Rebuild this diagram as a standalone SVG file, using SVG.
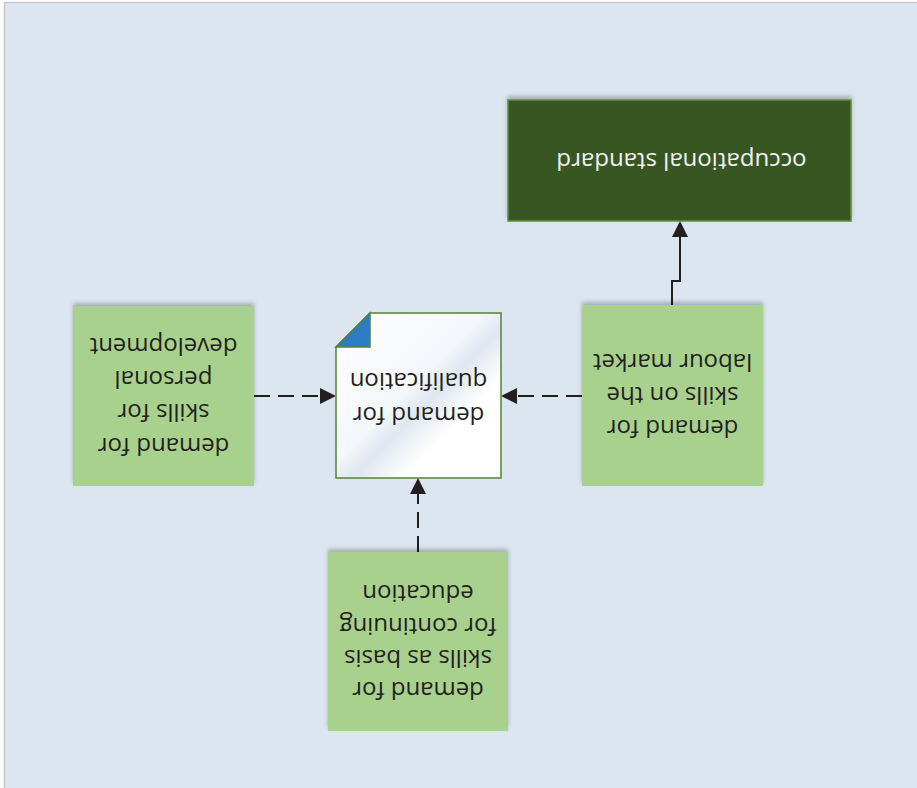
<svg xmlns="http://www.w3.org/2000/svg" width="917" height="788" viewBox="0 0 917 788">
<style>
.lbl{font-family:"Open Sans","Liberation Sans",sans-serif;font-size:24px;fill:#231f20;text-anchor:middle}
.lblw{font-family:"Open Sans","Liberation Sans",sans-serif;font-size:24px;fill:#f2f2f2;text-anchor:middle}
.green{fill:#a9d18e;filter:url(#sh)}
.conn{fill:none;stroke:#231f20;stroke-width:2}
.dash{stroke-dasharray:16 8}
</style>
<defs>
<filter id="sh" x="-10%" y="-10%" width="120%" height="120%">
<feDropShadow dx="0" dy="-3" stdDeviation="2" flood-color="#000" flood-opacity="0.25"/>
</filter>
<linearGradient id="doc" x1="0" y1="0" x2="1" y2="1">
<stop offset="0" stop-color="#ffffff"/>
<stop offset="0.45" stop-color="#f4f7fb"/>
<stop offset="0.55" stop-color="#dfe7f1"/>
<stop offset="0.7" stop-color="#ffffff"/>
<stop offset="1" stop-color="#ffffff"/>
</linearGradient>
<marker id="arr" viewBox="0 0 16 16" refX="0" refY="8" markerWidth="16" markerHeight="16" markerUnits="userSpaceOnUse" orient="auto">
<path d="M0,0 L16,8 L0,16 z" fill="#231f20"/>
</marker>
</defs>
<rect x="4.5" y="2.5" width="920" height="790" fill="#dce6f1" stroke="#c8c8c8" stroke-width="1.5"/>

<g id="connectors">
<path class="conn dash" d="M254,396 H320" marker-end="url(#arr)"/>
<path class="conn dash" d="M582,396 H517" marker-end="url(#arr)"/>
<path class="conn dash" d="M418,552 V494" marker-end="url(#arr)"/>
<path class="conn" d="M672,305 V281 H680 V237" marker-end="url(#arr)"/>
</g>

<g id="node-occupational-standard">
<rect x="508" y="100" width="343" height="121" fill="#385723" stroke="#5f8f3c" stroke-width="1.5" filter="url(#sh)"/>
<g transform="rotate(180 679.5 160.5)">
<text class="lblw" x="677.5" y="167.7">occupational standard</text>
</g>
</g>

<g id="node-personal-development">
<rect class="green" x="73" y="306" width="181" height="180"/>
<g transform="rotate(180 163.5 396)">
<text class="lbl" x="163.5" y="354.5">demand for</text>
<text class="lbl" x="163.5" y="388">skills for</text>
<text class="lbl" x="163.5" y="421">personal</text>
<text class="lbl" x="163.5" y="454.5">development</text>
</g>
</g>

<g id="node-labour-market">
<rect class="green" x="582" y="305" width="181" height="181"/>
<g transform="rotate(180 672.5 396)">
<text class="lbl" x="672.5" y="372.5">demand for</text>
<text class="lbl" x="672.5" y="405.5">skills on the</text>
<text class="lbl" x="672.5" y="438.5">labour market</text>
</g>
</g>

<g id="node-continuing-education">
<rect class="green" x="328" y="552" width="180" height="179"/>
<g transform="rotate(180 418 641.5)">
<text class="lbl" x="418" y="601.3">demand for</text>
<text class="lbl" x="418" y="633">skills as basis</text>
<text class="lbl" x="418" y="664.7">for continuing</text>
<text class="lbl" x="418" y="698">education</text>
</g>
</g>

<g id="node-qualification">
<path d="M370,313 H501 V478 H336 V347 Z" fill="url(#doc)" stroke="#548235" stroke-width="1.5"/>
<path d="M336,347 L370,313 V347 Z" fill="#2e7dc4" stroke="#548235" stroke-width="1.5"/>
<g transform="rotate(180 418.5 395.5)">
<text class="lbl" x="418.5" y="384.3">demand for</text>
<text class="lbl" x="418.5" y="418.3">qualification</text>
</g>
</g>
</svg>
